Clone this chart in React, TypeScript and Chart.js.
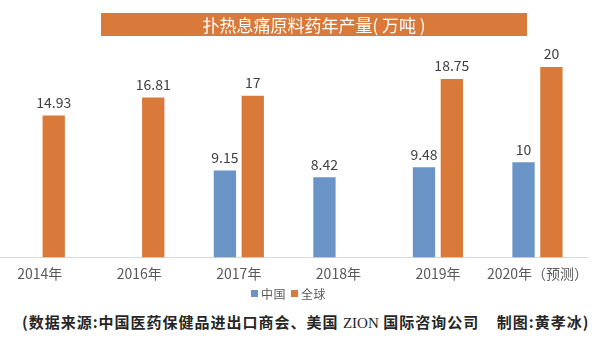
import React, { useEffect, useRef } from "react";
import { Chart, registerables } from "chart.js";

Chart.register(...registerables);

const categories = ["2014年", "2016年", "2017年", "2018年", "2019年", "2020年（预测）"];
const chinaValues: (number | null)[] = [null, null, 9.15, 8.42, 9.48, 10];
const globalValues: (number | null)[] = [14.93, 16.81, 17, null, 18.75, 20];
const seriesNames = ["中国", "全球"];
const titleText = "扑热息痛原料药年产量( 万吨 )";

const BLUE = "#6a93c6";
const ORANGE = "#d97a3a";
const FONT = "'Noto Sans CJK SC', 'Noto Sans', sans-serif";

const valueLabels = {
  id: "valueLabels",
  afterDatasetsDraw(chart: any) {
    const ctx = chart.ctx;
    ctx.save();
    ctx.font = `14px ${FONT}`;
    ctx.fillStyle = "#404040";
    ctx.textAlign = "center";
    ctx.textBaseline = "bottom";
    chart.data.datasets.forEach((ds: any, i: number) => {
      const meta = chart.getDatasetMeta(i);
      meta.data.forEach((el: any, j: number) => {
        const v = ds.data[j];
        if (v === null || v === undefined) return;
        ctx.fillText(String(v), el.x, el.y - 6);
      });
    });
    ctx.restore();
  },
};

export default function App() {
  const ref = useRef<HTMLCanvasElement>(null);
  useEffect(() => {
    if (!ref.current) return;
    const chart = new Chart(ref.current, {
      type: "bar",
      data: {
        labels: categories,
        datasets: [
          {
            label: seriesNames[0],
            data: chinaValues,
            backgroundColor: BLUE,
            categoryPercentage: 0.56,
            barPercentage: 0.8,
          },
          {
            label: seriesNames[1],
            data: globalValues,
            backgroundColor: ORANGE,
            categoryPercentage: 0.56,
            barPercentage: 0.8,
          },
        ],
      },
      options: {
        responsive: false,
        animation: false,
        layout: { padding: { top: 10, left: 0, right: 0, bottom: 0 } },
        plugins: { legend: { display: false }, tooltip: { enabled: false }, title: { display: false } },
        scales: {
          y: { display: false, min: 0, max: 26 },
          x: {
            grid: { display: false, drawTicks: false },
            border: { display: true, color: "#d9d9d9", width: 1 },
            ticks: {
              autoSkip: false,
              maxRotation: 0,
              padding: 8,
              color: "#595959",
              font: { family: FONT, size: 14 },
            },
            afterFit: (scale: any) => {
              scale.height = 28.5;
            },
          },
        },
      },
      plugins: [valueLabels],
    });
    return () => chart.destroy();
  }, []);

  return (
    <div style={{ position: "absolute", left: 0, top: 0, width: 600, height: 339, overflow: "hidden", background: "#fff", fontFamily: FONT }}>
      <div style={{ position: "absolute", left: -10, top: 0, width: 606, height: 286 }}>
        <canvas ref={ref} width={606} height={286} style={{ width: 606, height: 286, display: "block" }} />
      </div>
      <div
        style={{
          position: "absolute",
          left: 101,
          top: 13,
          width: 426,
          height: 23,
          background: ORANGE,
          color: "#fff",
          fontSize: 17,
          lineHeight: "23px",
          textAlign: "center",
          whiteSpace: "pre",
        }}
      >
        {titleText}
      </div>
      <div style={{ position: "absolute", left: 251, top: 285, height: 16, display: "flex", alignItems: "center", fontSize: 12, color: "#595959", whiteSpace: "pre" }}>
        <span style={{ width: 7, height: 7, background: BLUE, display: "inline-block", marginRight: 3 }} />
        <span style={{ letterSpacing: 0.5 }}>{seriesNames[0]}</span>
        <span style={{ width: 7, height: 7, background: ORANGE, display: "inline-block", marginLeft: 5, marginRight: 3 }} />
        <span style={{ letterSpacing: 0.5 }}>{seriesNames[1]}</span>
      </div>
      <div style={{ position: "absolute", left: 22, top: 312, fontSize: 15, fontWeight: 600, color: "#262626", whiteSpace: "pre", lineHeight: "20px", letterSpacing: 1 }}>
        (数据来源:中国医药保健品进出口商会、美国 <span style={{ fontFamily: "'Liberation Serif', serif", fontWeight: 400, letterSpacing: 0 }}>ZION</span> 国际咨询公司    制图:黄孝冰)
      </div>
    </div>
  );
}
